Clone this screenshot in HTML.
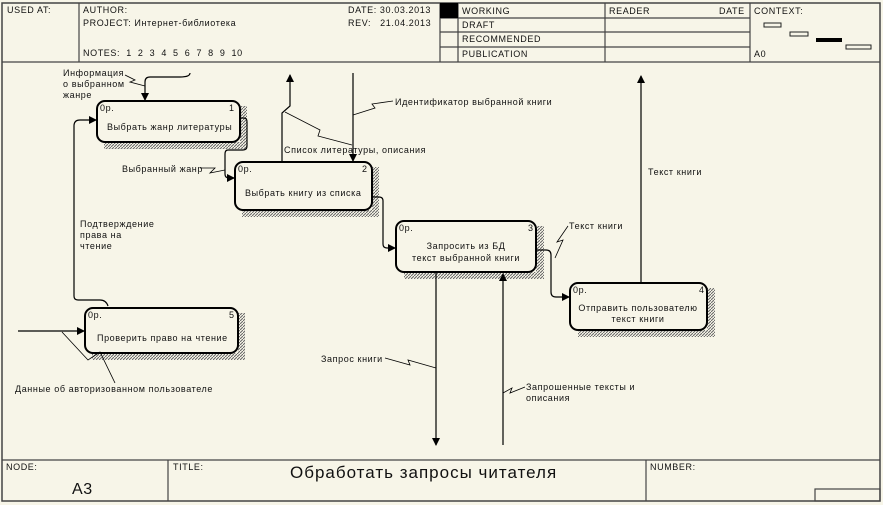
<!DOCTYPE html>
<html><head><meta charset="utf-8"><style>
body{margin:0;background:#f7f5e8;}
svg{display:block;font-family:"Liberation Sans",sans-serif;}
text{font-size:9px;fill:#111;letter-spacing:0.6px;}
</style></head><body>
<svg width="883" height="505" viewBox="0 0 883 505" xmlns="http://www.w3.org/2000/svg">
<defs>
<pattern id="h" width="3" height="3" patternUnits="userSpaceOnUse">
<rect width="3" height="3" fill="#f7f5e8"/><path d="M0,3 L3,0" stroke="#666" stroke-width="1"/>
</pattern>
<marker id="a" markerWidth="8" markerHeight="8" refX="7" refY="4" orient="auto" markerUnits="userSpaceOnUse">
<path d="M0,0 L8,4 L0,8 z" fill="#000"/></marker>
</defs>
<rect width="883" height="505" fill="#f7f5e8"/>
<rect x="2" y="3" width="878" height="498" fill="none" stroke="#444" stroke-width="1.5"/>
<g stroke="#444" stroke-width="1.2" fill="none">
<line x1="2" y1="62" x2="880" y2="62"/>
<line x1="79" y1="3" x2="79" y2="62"/>
<line x1="440" y1="3" x2="440" y2="62"/>
<line x1="458" y1="3" x2="458" y2="62"/>
<line x1="605" y1="3" x2="605" y2="62"/>
<line x1="750" y1="3" x2="750" y2="62"/>
<line x1="440" y1="18" x2="750" y2="18"/>
<line x1="440" y1="32" x2="750" y2="32"/>
<line x1="440" y1="47" x2="750" y2="47"/>
<line x1="2" y1="460" x2="880" y2="460"/>
<line x1="168" y1="460" x2="168" y2="501"/>
<line x1="646" y1="460" x2="646" y2="501"/>
<rect x="815" y="489" width="65" height="12"/>
</g>
<rect x="440" y="3" width="18" height="15" fill="#000"/>
<rect x="764" y="23" width="17" height="4" fill="none" stroke="#222"/>
<rect x="790" y="32" width="18" height="4" fill="none" stroke="#222"/>
<rect x="816" y="38" width="26" height="4" fill="#000"/>
<rect x="846" y="45" width="25" height="4" fill="none" stroke="#222"/>
<g>
<text x="7" y="13">USED AT:</text>
<text x="83" y="13">AUTHOR:</text>
<text x="83" y="26">PROJECT:  Интернет-библиотека</text>
<text x="83" y="56" style="word-spacing:3px">NOTES:  1  2  3  4  5  6  7  8  9  10</text>
<text x="348" y="13">DATE:  30.03.2013</text>
<text x="348" y="26" style="word-spacing:6px">REV: 21.04.2013</text>
<text x="462" y="14">WORKING</text>
<text x="462" y="28">DRAFT</text>
<text x="462" y="42">RECOMMENDED</text>
<text x="462" y="57">PUBLICATION</text>
<text x="609" y="14">READER</text>
<text x="719" y="14">DATE</text>
<text x="754" y="14">CONTEXT:</text>
<text x="754" y="57">A0</text>
<text x="6" y="470">NODE:</text>
<text x="173" y="470">TITLE:</text>
<text x="650" y="470">NUMBER:</text>
<text x="72" y="494" style="font-size:16px">A3</text>
<text x="290" y="478" style="font-size:17px;letter-spacing:1px">Обработать запросы читателя</text>
</g>
<g>
<path d="M240,106 h7 v43 h-143 v-7 h136z" fill="url(#h)"/>
<rect x="97" y="101" width="143" height="41" rx="8" fill="#f7f5e8" stroke="#000" stroke-width="2"/>
<path d="M372,167 h7 v50 h-137 v-7 h130z" fill="url(#h)"/>
<rect x="235" y="162" width="137" height="48" rx="8" fill="#f7f5e8" stroke="#000" stroke-width="2"/>
<path d="M536,226 h8 v53 h-140 v-7 h132z" fill="url(#h)"/>
<rect x="396" y="221" width="140" height="51" rx="8" fill="#f7f5e8" stroke="#000" stroke-width="2"/>
<path d="M707,288 h8 v49 h-137 v-7 h129z" fill="url(#h)"/>
<rect x="570" y="283" width="137" height="47" rx="8" fill="#f7f5e8" stroke="#000" stroke-width="2"/>
<path d="M238,313 h7 v47 h-153 v-7 h146z" fill="url(#h)"/>
<rect x="85" y="308" width="153" height="45" rx="8" fill="#f7f5e8" stroke="#000" stroke-width="2"/>
</g>
<g>
<text x="100" y="111">0р.</text><text x="229" y="111">1</text>
<text x="107" y="130">Выбрать жанр литературы</text>
<text x="238" y="172">0р.</text><text x="362" y="172">2</text>
<text x="245" y="196">Выбрать книгу из списка</text>
<text x="399" y="231">0р.</text><text x="528" y="231">3</text>
<text x="466" y="249" text-anchor="middle">Запросить из БД</text>
<text x="466" y="261" text-anchor="middle">текст выбранной книги</text>
<text x="573" y="293">0р.</text><text x="699" y="293">4</text>
<text x="638" y="311" text-anchor="middle">Отправить пользователю</text>
<text x="638" y="322" text-anchor="middle">текст книги</text>
<text x="88" y="318">0р.</text><text x="229" y="318">5</text>
<text x="97" y="341">Проверить право на чтение</text>
</g>
<g stroke="#000" stroke-width="1.2" fill="none">
<path d="M190,73 Q190,77 180,77 L150,77 Q145,77 145,82 L145,100" marker-end="url(#a)"/>
<path d="M108,306 Q106,300 100,300 L78,300 Q74,300 74,296 L74,126 Q74,120 80,120 L96,120" marker-end="url(#a)"/>
<path d="M240,118 L244,118 Q247,118 247,122 L247,146 Q247,150 243,150 L228,150 Q225,150 225,154 L225,174 Q225,178 229,178 L234,178" marker-end="url(#a)"/>
<path d="M282,162 L282,113 L290,106 L290,75" marker-end="url(#a)"/>
<path d="M353,73 L353,161" marker-end="url(#a)"/>
<path d="M372,197 L379,197 Q383,197 383,201 L383,244 Q383,248 387,248 L395,248" marker-end="url(#a)"/>
<path d="M536,250 L546,250 Q551,250 551,255 L551,292 Q551,297 556,297 L569,297" marker-end="url(#a)"/>
<path d="M641,283 L641,76" marker-end="url(#a)"/>
<path d="M436,272 L436,445" marker-end="url(#a)"/>
<path d="M503,445 L503,274" marker-end="url(#a)"/>
<path d="M18,331 L84,331" marker-end="url(#a)"/>
</g>
<g stroke="#000" stroke-width="0.8" fill="none">
<path d="M125,75 L135,80 L130,82 L145,86"/>
<path d="M200,168 L215,168 L210,173 L225,170"/>
<path d="M285,112 L320,130 L318,136 L352,145"/>
<path d="M353,115 L375,108 L372,104 L393,101"/>
<path d="M555,258 L563,240 L557,242 L568,226"/>
<path d="M385,358 L410,365 L408,360 L436,368"/>
<path d="M503,393 L512,388 L510,393 L525,387"/>
<path d="M62,332 L88,360 L100,352 L115,383"/>
</g>
<g>
<text x="63" y="76">Информация</text>
<text x="63" y="87">о выбранном</text>
<text x="63" y="98">жанре</text>
<text x="122" y="172">Выбранный жанр</text>
<text x="284" y="153">Список литературы, описания</text>
<text x="395" y="105">Идентификатор выбранной книги</text>
<text x="80" y="227">Подтверждение</text>
<text x="80" y="238">права на</text>
<text x="80" y="249">чтение</text>
<text x="569" y="229">Текст книги</text>
<text x="648" y="175">Текст книги</text>
<text x="321" y="362">Запрос книги</text>
<text x="526" y="390">Запрошенные тексты и</text>
<text x="526" y="401">описания</text>
<text x="15" y="392">Данные об авторизованном пользователе</text>
</g>
</svg>
</body></html>
